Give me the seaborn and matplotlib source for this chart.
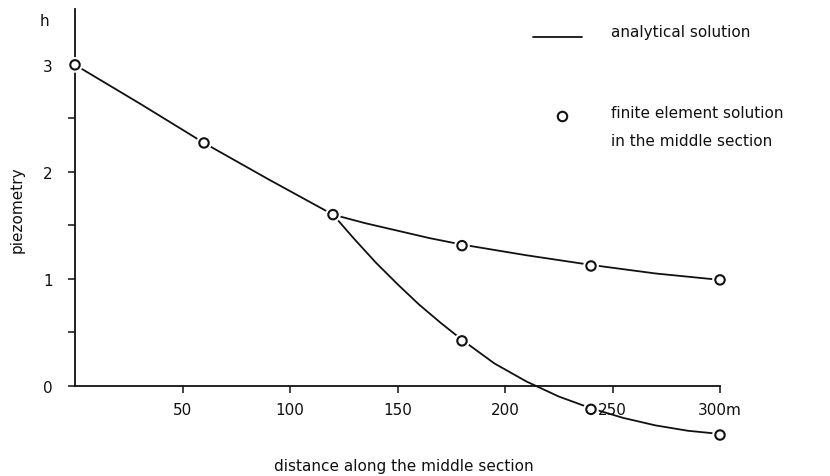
import matplotlib
matplotlib.use("Agg")
import matplotlib.pyplot as plt
import matplotlib.patheffects as pe
from matplotlib.lines import Line2D
import pandas as pd
import seaborn as sns

# analytical solution
upper_x = [0, 30, 60, 90, 120, 135, 150, 165, 180, 210, 240, 270, 300]
upper_h = [3.00, 2.64, 2.27, 1.93, 1.60, 1.52, 1.45, 1.38, 1.32, 1.22, 1.13, 1.05, 0.99]
lower_x = [120, 130, 140, 150, 160, 170, 180, 195, 210, 225, 240, 255, 270, 285, 300]
lower_h = [1.60, 1.37, 1.15, 0.95, 0.76, 0.59, 0.43, 0.21, 0.04, -0.10, -0.21, -0.30, -0.37, -0.42, -0.45]

# finite element solution in the middle section
fe_upper_x = [0, 60, 120, 180, 240, 300]
fe_upper_h = [3.00, 2.27, 1.60, 1.31, 1.12, 0.99]
fe_lower_x = [180, 240, 300]
fe_lower_h = [0.42, -0.22, -0.46]

x_ticks = [50, 100, 150, 200, 250, 300]
x_tick_labels = ["50", "100", "150", "200", "250", "300m"]
y_ticks = [0, 1, 2, 3]
y_minor = [0.5, 1.5, 2.5]

sns.set_style("ticks")
plt.rcParams["font.family"] = ["DejaVu Sans"]
FS = 11
INK = "#111111"

fig = plt.figure(figsize=(8.3, 4.77), dpi=100)
ax = fig.add_axes([75 / 830, 26 / 477, 645 / 830, 444 / 477])

up = pd.DataFrame({"x": upper_x, "h": upper_h})
lo = pd.DataFrame({"x": lower_x, "h": lower_h})
fe = pd.DataFrame({"x": fe_upper_x + fe_lower_x, "h": fe_upper_h + fe_lower_h})

for d in (up, lo):
    sns.lineplot(data=d, x="x", y="h", ax=ax, color=INK, linewidth=1.3,
                 sort=False, estimator=None, clip_on=False, zorder=2)

sns.scatterplot(data=fe, x="x", y="h", ax=ax, marker="o", s=46,
                facecolor="white", edgecolor=INK, linewidth=1.5,
                clip_on=False, zorder=4)
for coll in ax.collections:
    coll.set_path_effects([pe.withStroke(linewidth=4.5, foreground="white")])

ax.set_xlim(0, 300)
ax.set_ylim(-0.6, 3.55)

ax.spines["top"].set_visible(False)
ax.spines["right"].set_visible(False)
ax.spines["bottom"].set_position(("data", 0))
ax.spines["bottom"].set_bounds(0, 300)
ax.spines["left"].set_bounds(0, 3.52)
for s in ("bottom", "left"):
    ax.spines[s].set_linewidth(1.3)
    ax.spines[s].set_color(INK)

ax.set_xticks(x_ticks)
ax.set_xticklabels(x_tick_labels)
ax.set_yticks(y_ticks)
ax.set_yticks(y_minor, minor=True)
ax.tick_params(axis="both", which="both", direction="out", length=5,
               width=1.1, color=INK, labelsize=FS, labelcolor=INK)
ax.tick_params(axis="y", pad=11)
ax.tick_params(axis="x", pad=7)

ax.set_xlabel("distance along the middle section", fontsize=FS, color=INK, va="center")
ax.xaxis.set_label_coords(0.51, -0.034)
ax.set_ylabel("piezometry", fontsize=FS, color=INK, va="center")
ax.yaxis.set_label_coords(-0.09, 0.543)

ax.text(-14, 3.41, "h", fontsize=FS, color=INK, ha="center", va="center")

# legend
fig.add_artist(Line2D([533 / 830, 582 / 830], [0.921, 0.921], color=INK, linewidth=1.3))
fig.text(611 / 830, 0.922, "analytical solution", fontsize=FS, color=INK, va="baseline")
fig.add_artist(Line2D([562 / 830], [0.755], marker="o", markersize=6.8,
                      markerfacecolor="white", markeredgecolor=INK, markeredgewidth=1.5))
fig.text(611 / 830, 0.753, "finite element solution", fontsize=FS, color=INK, va="baseline")
fig.text(611 / 830, 0.694, "in the middle section", fontsize=FS, color=INK, va="baseline")

fig.savefig("out.png", dpi=100)
